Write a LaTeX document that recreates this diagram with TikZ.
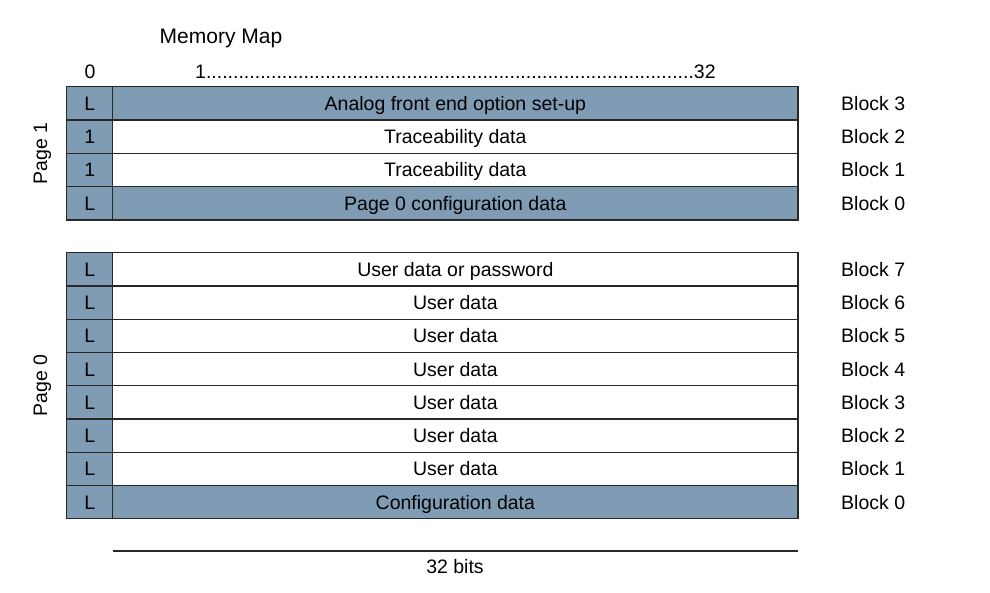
\documentclass[tikz,border=0pt]{standalone}
\usepackage{fontspec}
\setmainfont{Liberation Sans}
\definecolor{slate}{RGB}{128,156,181}
\definecolor{rule}{RGB}{40,40,40}
\begin{document}
\begin{tikzpicture}[x=1pt,y=-1pt,
  txt/.style={font=\fontsize{19.5}{22}\selectfont, inner sep=0pt, text height=14pt, text depth=0pt},
  lcell/.style={txt, draw=rule, line width=1.3pt, minimum width=46pt, minimum height=33.3pt},
  dcell/.style={txt, draw=rule, line width=1.3pt, minimum width=685.3pt, minimum height=33.3pt},
  shaded/.style={fill=slate},
  plain/.style={fill=white},
  blk/.style={txt, anchor=west},
  pagelbl/.style={txt, rotate=90}
]
\useasboundingbox (0,0) rectangle (990,592);
\fill[white] (0,0) rectangle (990,592);

\node[txt, font=\fontsize{21}{24}\selectfont] (title) at (221,36) {Memory Map};
\node[txt] (bit0) at (90,71) {0};
\node[txt, anchor=west] (bitrange) at (195,71) {1..........................................................................................32};

% Page 1
\foreach \i/\lab/\txtc/\sty/\b in {
  1/L/Analog front end option set-up/shaded/3,
  2/1/Traceability data/plain/2,
  3/1/Traceability data/plain/1,
  4/L/Page 0 configuration data/shaded/0}{
  \pgfmathsetmacro{\yy}{86.7+33.3*(\i-0.5)}
  \node[lcell, fill=slate] (pa\i) at (89.7,\yy) {\lab};
  \node[dcell, \sty] (pd\i) at (455.35,\yy) {\txtc};
  \node[blk] (pb\i) at (841,\yy) {Block \b};
}
\node[pagelbl] (page1) at (40,153.3) {Page 1};

% Page 0
\foreach \i/\txtc/\sty/\b in {
  1/User data or password/plain/7,
  2/User data/plain/6,
  3/User data/plain/5,
  4/User data/plain/4,
  5/User data/plain/3,
  6/User data/plain/2,
  7/User data/plain/1,
  8/Configuration data/shaded/0}{
  \pgfmathsetmacro{\yy}{252.7+33.25*(\i-0.5)}
  \node[lcell, fill=slate] (qa\i) at (89.7,\yy) {L};
  \node[dcell, \sty] (qd\i) at (455.35,\yy) {\txtc};
  \node[blk] (qb\i) at (841,\yy) {Block \b};
}
\node[pagelbl] (page0) at (40,385.7) {Page 0};

% width indicator
\coordinate (wl) at (113,551);
\coordinate (wr) at (798,551);
\draw[rule, line width=1.1pt] (wl) -- (wr);
\node[txt] (bits) at (455,566) {32 bits};
\end{tikzpicture}
\end{document}
